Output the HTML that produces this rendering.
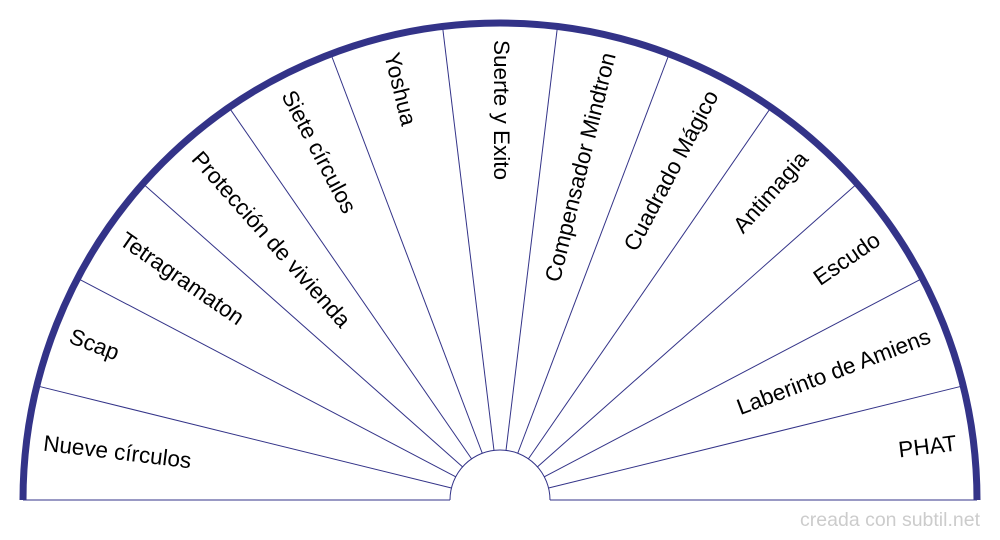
<!DOCTYPE html>
<html><head><meta charset="utf-8"><style>
html,body{margin:0;padding:0;background:#fff;width:1000px;height:540px;overflow:hidden}
svg{display:block}
text{font-family:"Liberation Sans",sans-serif;font-size:22.5px;fill:#000}
</style></head><body>
<svg width="1000" height="540" viewBox="0 0 1000 540">
<g stroke="#333388" fill="none">
<line x1="23" y1="500" x2="450" y2="500" stroke-width="1"/>
<line x1="550" y1="500" x2="977" y2="500" stroke-width="1"/>
<path d="M450,500 A50,50 0 0 1 550,500" stroke-width="1"/>
<g id="spokes" stroke-width="1"></g>
<path d="M23,500 A477,477 0 0 1 977,500" stroke-width="7"/>
</g>
<g id="labels"></g>
<text x="980" y="526" text-anchor="end" style="font-size:19.5px;fill:#cccccc">creada con subtil.net</text>
</svg>
<script>
var labels=["Nueve círculos","Scap","Tetragramaton","Protección de vivienda","Siete círculos","Yoshua","Suerte y Exito","Compensador Mindtron","Cuadrado Mágico","Antimagia","Escudo","Laberinto de Amiens","PHAT"];
var ns="http://www.w3.org/2000/svg",n=13,step=180/n;
var sp=document.getElementById("spokes"),lg=document.getElementById("labels");
for(var k=1;k<n;k++){var a=k*step*Math.PI/180,c=Math.cos(a),s=Math.sin(a);
var l=document.createElementNS(ns,"line");
l.setAttribute("x1",500-50*c);l.setAttribute("y1",500-50*s);
l.setAttribute("x2",500-475*c);l.setAttribute("y2",500-475*s);sp.appendChild(l);}
for(var i=0;i<n;i++){var t=(i+0.5)*step,a=t*Math.PI/180,r=460;
var x=500-r*Math.cos(a),y=500-r*Math.sin(a);
var e=document.createElementNS(ns,"text");e.textContent=labels[i];
e.setAttribute("x",x);e.setAttribute("y",y);e.setAttribute("dominant-baseline","middle");
if(t<=90){e.setAttribute("text-anchor","start");e.setAttribute("transform","rotate("+t+" "+x+" "+y+")");}
else{e.setAttribute("text-anchor","end");e.setAttribute("transform","rotate("+(t-180)+" "+x+" "+y+")");}
lg.appendChild(e);}
</script>
</body></html>
